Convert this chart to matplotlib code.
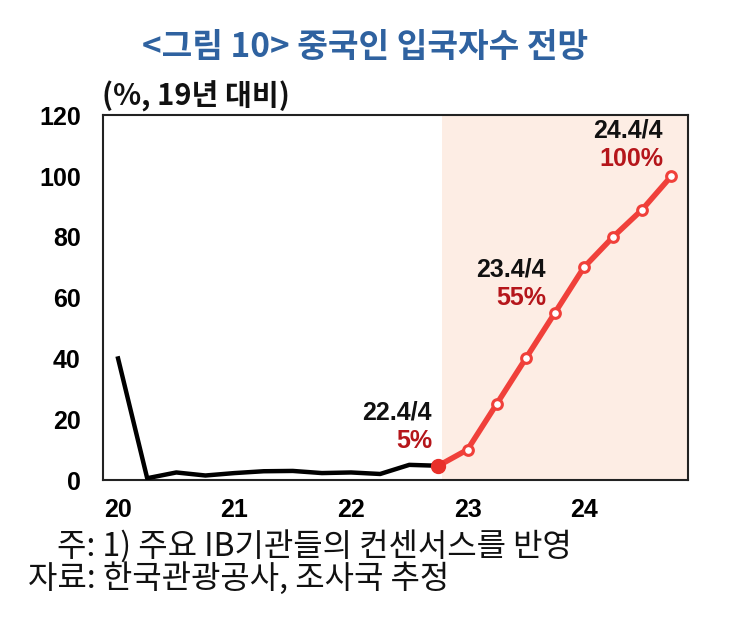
import matplotlib
matplotlib.use("Agg")
import matplotlib.pyplot as plt

plt.rcParams['font.family'] = ['Noto Sans CJK KR', 'DejaVu Sans']

# Data (quarterly, x = year offset in 2-digit years)
hist_x = [20.0, 20.25, 20.5, 20.75, 21.0, 21.25, 21.5, 21.75, 22.0, 22.25, 22.5, 22.75]
hist_y = [40, 0.6, 2.5, 1.5, 2.3, 2.9, 3.0, 2.3, 2.5, 2.0, 5.0, 4.7]
fc_x = [22.75, 23.0, 23.25, 23.5, 23.75, 24.0, 24.25, 24.5, 24.75]
fc_y = [4.7, 10, 25, 40, 55, 70, 80, 89, 100]
xticks = [20, 21, 22, 23, 24]
xticklabels = ['20', '21', '22', '23', '24']
yticks = [0, 20, 40, 60, 80, 100, 120]
annot_labels = ['22.4/4', '23.4/4', '24.4/4']
annot_values = ['5%', '55%', '100%']
annot_x = [22.695, 23.674, 24.678]
annot_y_top = [22.1, 69.2, 115.0]
annot_y_bot = [12.9, 60.0, 105.5]
shade_start = 22.78

fig = plt.figure(figsize=(7.3, 6.3), dpi=100)
ax = fig.add_axes([0.141, 0.238, 0.801, 0.579])

ax.axvspan(shade_start, 25.5, color='#fdede4', zorder=0, lw=0)
ax.plot(hist_x, hist_y, color='black', lw=3.2, zorder=3, solid_joinstyle='round')
ax.plot(fc_x, fc_y, color='#f0403a', lw=4, zorder=4, marker='o', ms=7,
        mfc='white', mec='#f0403a', mew=2.2)
ax.plot([fc_x[0]], [fc_y[0]], 'o', color='#e8302a', ms=10, zorder=5)

ax.set_xlim(19.87, 24.89)
ax.set_ylim(0, 120)
ax.set_xticks(xticks)
ax.set_xticklabels(xticklabels)
ax.set_yticks(yticks)
ax.tick_params(length=0)
ax.tick_params(axis='x', pad=13)
ax.tick_params(axis='y', pad=16)
for lab in ax.get_xticklabels() + ax.get_yticklabels():
    lab.set_fontfamily(['Liberation Sans', 'DejaVu Sans'])
    lab.set_fontweight('bold')
    lab.set_fontsize(18)
for s in ax.spines.values():
    s.set_linewidth(1.5)
    s.set_color('#222222')

for x, yt, yb, t1, t2 in zip(annot_x, annot_y_top, annot_y_bot, annot_labels, annot_values):
    ax.text(x, yt, t1, ha='right', va='center', fontsize=18,
            fontweight='bold', color='#111111', family=['Liberation Sans', 'DejaVu Sans'])
    ax.text(x, yb, t2, ha='right', va='center', fontsize=18,
            fontweight='bold', color='#b5161b', family=['Liberation Sans', 'DejaVu Sans'])

fig.text(0.5, 0.925, '<그림 10> 중국인 입국자수 전망', ha='center', va='center',
         fontsize=24, fontweight='bold', color='#2f62a0')
fig.text(0.14, 0.847, '(%, 19년 대비)', ha='left', va='center', fontsize=21,
         fontweight='bold', color='#111111')
fig.text(0.078, 0.132, '주: 1) 주요 IB기관들의 컨센서스를 반영', ha='left', va='center',
         fontsize=23, color='#111111')
fig.text(0.038, 0.081, '자료: 한국관광공사, 조사국 추정', ha='left', va='center',
         fontsize=23, color='#111111')

fig.savefig('out.png', dpi=100)
